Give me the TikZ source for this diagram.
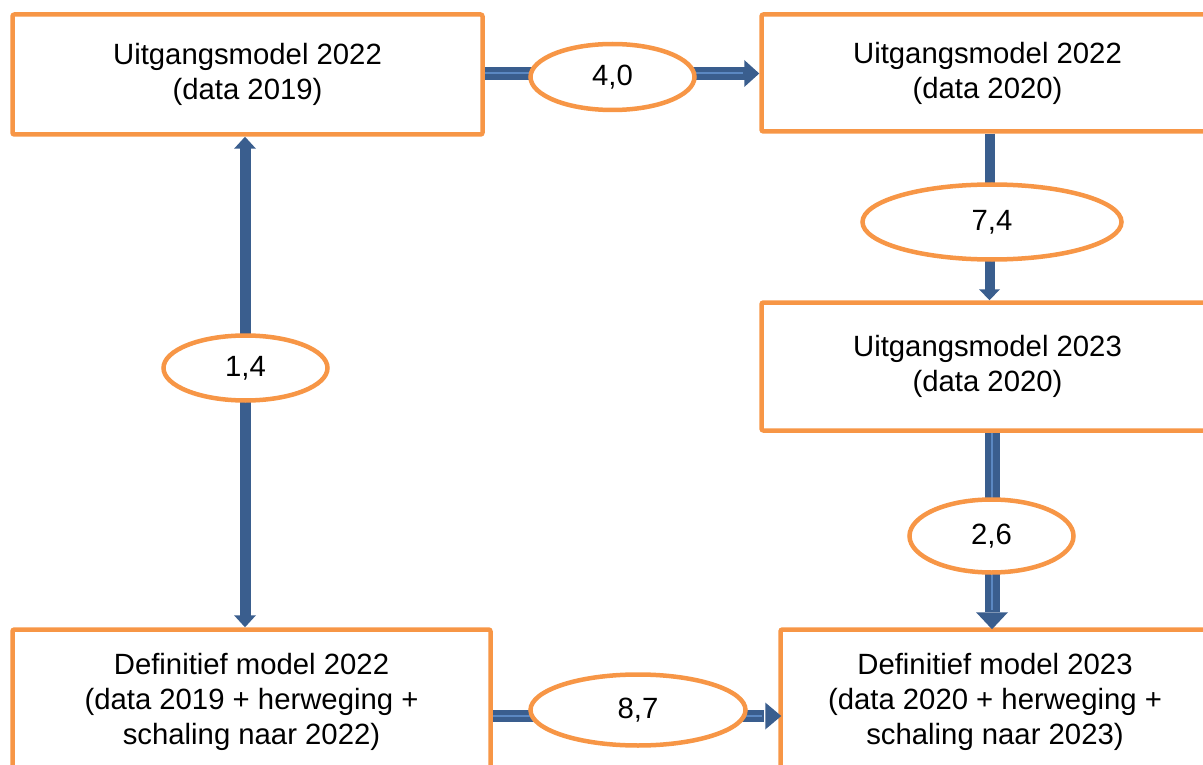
\documentclass[tikz,border=0pt]{standalone}
\usepackage{fontspec}
\setmainfont{Liberation Sans}
\usetikzlibrary{shapes.geometric,calc}
\definecolor{orng}{HTML}{F79646}
\definecolor{arrdark}{HTML}{3A5E8E}
\definecolor{arrlight}{HTML}{5B88C2}
\begin{document}
\begin{tikzpicture}[x=1pt,y=-1pt,
  font=\fontsize{29.3}{35}\selectfont,
  box/.style={draw=orng, line width=4.5pt, fill=white, rounded corners=2pt, align=center, inner sep=0pt},
  oval/.style={ellipse, draw=orng, line width=4.5pt, fill=white, inner sep=0pt},
  arr/.style={draw=arrdark, line width=#1},
  head/.style={fill=arrdark},
  stripe/.style={draw=arrlight, line width=2pt}]
\useasboundingbox (0,0) rectangle (1203,765);
\clip (0,0) rectangle (1203,765);

% boxes
\node[box, minimum width=470pt, minimum height=120pt] (b1) at (247.5,74.5) {Uitgangsmodel 2022\\(data 2019)};
\node[box, minimum width=452pt, minimum height=117pt] (b2) at (987.5,73) {Uitgangsmodel 2022\\(data 2020)};
\node[box, minimum width=452pt, minimum height=128pt] (b3) at (987.5,366.5) {Uitgangsmodel 2023\\(data 2020)};
\node[box, minimum width=478pt, minimum height=145pt] (b4) at (251.5,702) {Definitief model 2022\\(data 2019 + herweging +\\schaling naar 2022)};
\node[box, minimum width=429pt, minimum height=145pt] (b5) at (995,702) {Definitief model 2023\\(data 2020 + herweging +\\schaling naar 2023)};

% guide coordinates
\coordinate (ty) at (0,73.5);
\coordinate (by) at (0,716);
\coordinate (lx) at (245,0);
\coordinate (rx1) at (989.5,0);
\coordinate (rx2) at (992,0);

% arrow top: b1 -> b2
\draw[arr=13pt] (b1.east |- ty) -- ($(b2.west |- ty)+(-14,0)$);
\draw[stripe] (b1.east |- ty) -- ($(b2.west |- ty)+(-16,0)$);
\fill[head] (b2.west |- ty) -- ++(-15,-13.5) -- ++(0,27) -- cycle;

% double arrow left: b1 <-> b4
\draw[arr=11pt] ($(b1.south -| lx)+(0,11)$) -- ($(b4.north -| lx)+(0,-11)$);
\fill[head] (b1.south -| lx) -- ++(-11,12) -- ++(22,0) -- cycle;
\fill[head] (b4.north -| lx) -- ++(-11,-12) -- ++(22,0) -- cycle;

% b2 -> b3
\draw[arr=10pt] (b2.south -| rx1) -- ($(b3.north -| rx1)+(0,-10)$);
\fill[head] (b3.north -| rx1) -- ++(-10.5,-11) -- ++(21,0) -- cycle;

% b3 -> b5
\draw[arr=15pt] (b3.south -| rx2) -- ($(b5.north -| rx2)+(0,-15)$);
\draw[stripe] (b3.south -| rx2) -- ($(b5.north -| rx2)+(0,-17)$);
\fill[head] ($(b5.north -| rx2)+(0,2)$) -- ++(-16,-17) -- ++(32,0) -- cycle;

% b4 -> b5
\draw[arr=12pt] (b4.east |- by) -- ($(b5.west |- by)+(-14,0)$);
\draw[stripe] (b4.east |- by) -- ($(b5.west |- by)+(-16,0)$);
\fill[head] ($(b5.west |- by)+(3,0)$) -- ++(-16,-13.5) -- ++(0,27) -- cycle;

% ovals
\node[oval, minimum width=164pt, minimum height=66pt] (e1) at (612.5,77) {4,0};
\node[oval, minimum width=259pt, minimum height=75pt] (e2) at (992,222) {7,4};
\node[oval, minimum width=164pt, minimum height=65pt] (e3) at (245.5,368) {1,4};
\node[oval, minimum width=164pt, minimum height=73pt] (e4) at (991.5,536) {2,6};
\node[oval, minimum width=215pt, minimum height=71pt] (e5) at (638,710) {8,7};
\end{tikzpicture}
\end{document}
